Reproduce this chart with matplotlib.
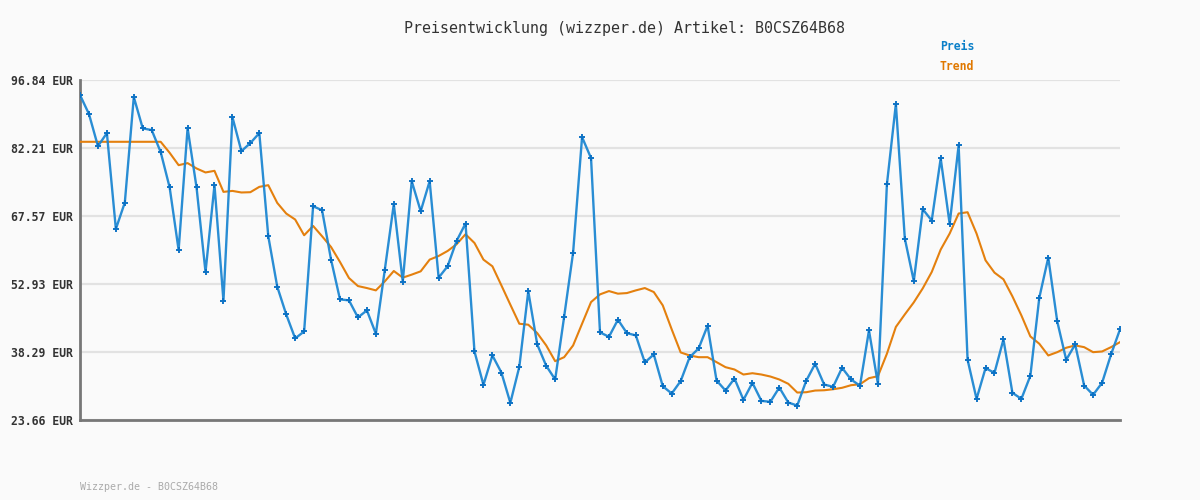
import matplotlib
matplotlib.use("Agg")
import matplotlib.pyplot as plt
import numpy as np

# Preis (blau) und Trend (orange)
preis = [93.61, 89.51, 82.61, 85.41, 64.78, 70.47, 93.17, 86.43, 86.06, 81.32,
         73.71, 60.25, 86.49, 73.71, 55.51, 74.20, 49.34, 88.86, 81.53, 83.26,
         85.41, 63.21, 52.36, 46.39, 41.22, 42.72, 69.67, 68.81, 58.18, 49.62,
         49.41, 45.74, 47.25, 42.23, 56.03, 70.11, 53.44, 75.06, 68.60, 75.06,
         54.30, 56.74, 62.19, 65.95, 38.41, 31.23, 37.55, 33.88, 27.35, 35.11,
         51.35, 39.92, 35.33, 32.38, 45.89, 59.69, 84.55, 80.02, 42.51, 41.58,
         45.25, 42.36, 41.86, 36.04, 37.77, 30.93, 29.36, 32.05, 37.18, 39.06,
         43.95, 32.16, 30.00, 32.59, 28.00, 31.66, 27.78, 27.57, 30.65, 27.42,
         26.77, 32.10, 35.76, 31.30, 30.80, 34.90, 32.38, 31.04, 42.94, 31.45,
         74.35, 91.67, 62.71, 53.57, 69.03, 66.59, 79.96, 65.86, 82.76, 36.62,
         28.21, 34.81, 33.82, 41.00, 29.51, 28.21, 33.17, 49.99, 58.61, 44.88,
         36.62, 39.92, 31.08, 29.08, 31.66, 37.77, 43.16]

trend = [83.54, 83.54, 83.54, 83.54, 83.54, 83.54, 83.54, 83.54, 83.54, 83.54,
         81.17, 78.51, 78.95, 77.80, 76.94, 77.29, 72.76, 72.97, 72.63, 72.69,
         73.84, 74.20, 70.39, 68.10, 66.81, 63.42, 65.43, 63.21, 60.90, 57.67,
         54.22, 52.49, 52.06, 51.56, 53.50, 55.73, 54.30, 54.95, 55.66, 58.18,
         58.96, 60.04, 61.48, 63.64, 61.76, 58.18, 56.74, 52.64, 48.48, 44.38,
         44.17, 42.36, 39.71, 36.32, 37.18, 39.71, 44.38, 49.04, 50.70, 51.41,
         50.85, 50.98, 51.56, 52.06, 51.20, 48.33, 43.16, 38.20, 37.55, 37.18,
         37.18, 36.11, 35.03, 34.53, 33.45, 33.73, 33.45, 33.02, 32.38, 31.45,
         29.57, 29.64, 30.00, 30.06, 30.28, 30.59, 31.15, 31.36, 32.66, 33.09,
         37.92, 43.69, 46.39, 48.98, 52.00, 55.51, 60.34, 63.79, 68.10, 68.38,
         63.79, 58.03, 55.38, 53.94, 50.27, 46.17, 41.65, 40.07, 37.55, 38.26,
         39.21, 39.71, 39.34, 38.26, 38.41, 39.34, 40.42]

yticks = [23.66, 38.29, 52.93, 67.57, 82.21, 96.84]
ytick_labels = ["23.66 EUR", "38.29 EUR", "52.93 EUR", "67.57 EUR", "82.21 EUR", "96.84 EUR"]

titel = "Preisentwicklung (wizzper.de) Artikel: B0CSZ64B68"
fusszeile = "Wizzper.de - B0CSZ64B68"

plt.rcParams['font.family'] = ['DejaVu Sans Mono']

fig = plt.figure(figsize=(12, 5), dpi=100, facecolor='#fafafa')
ax = fig.add_axes([80/1200, 80/500, 1040/1200, 340/500])
ax.set_facecolor('#fafafa')

x = np.arange(len(preis))
ax.plot(x, trend, color='#e4800e', lw=1.5, zorder=3)
ax.plot(x, preis, color='#1e87d2', lw=1.7, marker='P', ms=4, alpha=0.95,
        mfc='#0a70c4', mec='#0a70c4', mew=0, zorder=4)

ax.set_xlim(0, len(preis) - 1)
ax.set_ylim(yticks[0], yticks[-1])
ax.set_yticks(yticks)
ax.set_yticklabels(ytick_labels, fontsize=8.3, fontweight='bold', color='#333333')
ax.set_xticks([])
ax.tick_params(axis='y', length=0, pad=5)
ax.grid(axis='y', color='#e2e2e2', lw=1.6)
ax.set_axisbelow(True)

for s in ['top', 'right']:
    ax.spines[s].set_visible(False)
for s in ['left', 'bottom']:
    ax.spines[s].set_color('#777777')
    ax.spines[s].set_linewidth(2)

fig.text(624/1200, 1 - 28/500, titel, ha='center', va='center', fontsize=10.8, color='#333333')
fig.text(940/1200, 1 - 47/500, "Preis", ha='left', va='center', fontsize=8.3,
         fontweight='bold', color='#0a7fc8')
fig.text(940/1200, 1 - 67/500, "Trend", ha='left', va='center', fontsize=8.3,
         fontweight='bold', color='#e07800')
fig.text(80/1200, 1 - 487/500, fusszeile, ha='left', va='center', fontsize=7.2, color='#aaaaaa')

fig.savefig('out.png', dpi=100, facecolor=fig.get_facecolor())
